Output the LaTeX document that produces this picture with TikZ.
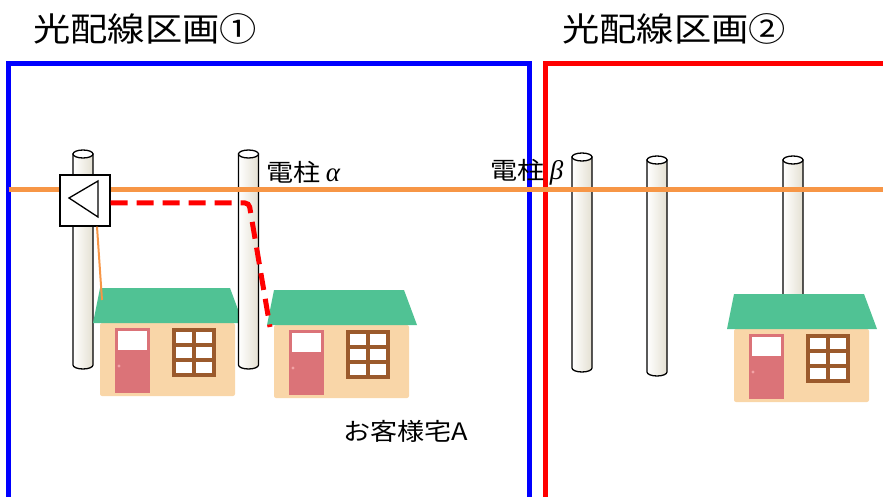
\documentclass[tikz,border=0pt]{standalone}
\usepackage{graphicx}
\usepackage{fontspec}
\setmainfont{Noto Sans CJK JP}
\newfontfamily\greekfont{Liberation Serif}
\usetikzlibrary{calc}

\definecolor{wire}{HTML}{F79646}
\definecolor{poleshade}{HTML}{E4E0D2}
\definecolor{wall}{HTML}{F9D6A8}
\definecolor{roof}{HTML}{50C294}
\definecolor{door}{HTML}{DB7378}
\definecolor{knob}{HTML}{F2A3A6}
\definecolor{sash}{HTML}{9B5A2C}

% slightly wider lettering
\newcommand\wide[1]{\scalebox{1.13}[1]{#1}}
\newcommand\greek[1]{{\greekfont\itshape\fontsize{27}{28}\selectfont #1}}

\tikzset{
  pole/.style={draw=black, line width=1.3pt, left color=white, right color=poleshade},
  poletop/.style={draw=black, line width=1.3pt, fill=white},
  area/.style={line width=5pt, line join=miter},
  title/.style={anchor=west, inner sep=0pt, font=\fontsize{33}{36}\selectfont},
  tag/.style={anchor=west, inner sep=0pt, font=\fontsize{24}{26}\selectfont}
}

% cylinder pole: centre x, top y, bottom y
\newcommand\pole[3]{%
  \draw[pole] (#1-10,#2) -- (#1-10,#3) arc[start angle=180, end angle=0, x radius=10, y radius=4] -- (#1+10,#2) -- cycle;
  \draw[poletop] (#1,#2) ellipse[x radius=10, y radius=4];
}

\begin{document}
\begin{tikzpicture}[x=1pt, y=-1pt]
  \clip (0,0) rectangle (883,497);

  % areas
  \draw[area, blue] (8.5,500) -- (8.5,64) -- (529.5,64) -- (529.5,500);
  \draw[area, red] (545.5,500) -- (545.5,64) -- (890,64);
  \node[title] (area1) at (33,29) {\wide{光配線区画①}};
  \node[title] (area2) at (562,29) {\wide{光配線区画②}};

  % poles
  \foreach \px/\pt/\pb in {83/154/365, 582/157/368, 657/160/372, 793/160/340}{
    \pole{\px}{\pt}{\pb}
  }

  % houses
  \foreach \hx/\hy in {93/323, 267/325, 727/329}{
    \begin{scope}[shift={(\hx,\hy)}]
      \fill[wall, rounded corners=2] (7,0) rectangle (142,73);
      \fill[roof] (7,-35) -- (137,-35) -- (150,0) -- (0,0) -- cycle;
      \fill[door] (22,5) rectangle (57,70);
      \fill[white] (25,8) rectangle (54,27);
      \fill[knob] (26,43) circle[radius=1.6];
      \fill[sash] (79,5) rectangle (123,54);
      \foreach \wx in {83,103}
        \foreach \wy in {9,24,39}
          \fill[white] (\wx,\wy) rectangle +(16,11);
    \end{scope}
  }

  \pole{248.5}{154}{365}

  % feeder along the poles
  \coordinate (wireW) at (8.5,190);
  \coordinate (wireE) at (883,190);
  \draw[wire, line width=5pt] (wireW) -- (wireE);

  % splitter
  \node[draw, fill=white, line width=1.3pt, inner sep=0pt, minimum width=50, minimum height=51] (split) at (85,200.5) {};
  \draw[line width=1.3pt, line join=miter] (69,198) -- (98,181) -- (98,217) -- cycle;

  \coordinate (drop1) at (102,300);
  \coordinate (bendA) at (249,203);
  \coordinate (dropA) at (270,327);
  \draw[wire, line width=2pt] ([xshift=12pt]split.south) -- (drop1);
  \draw[red, line width=5pt, dash pattern=on 17pt off 9pt, rounded corners=4] ([yshift=-2.5pt]split.east) -- (bendA) -- (dropA);

  % labels
  \node[tag] (alpha) at (266,172) {\wide{電柱} \greek{α}};
  \node[tag] (beta) at (490,172) {\wide{電柱} \greek{β}};
  \node[tag] (custA) at (343,431) {\wide{お客様宅A}};
\end{tikzpicture}
\end{document}
